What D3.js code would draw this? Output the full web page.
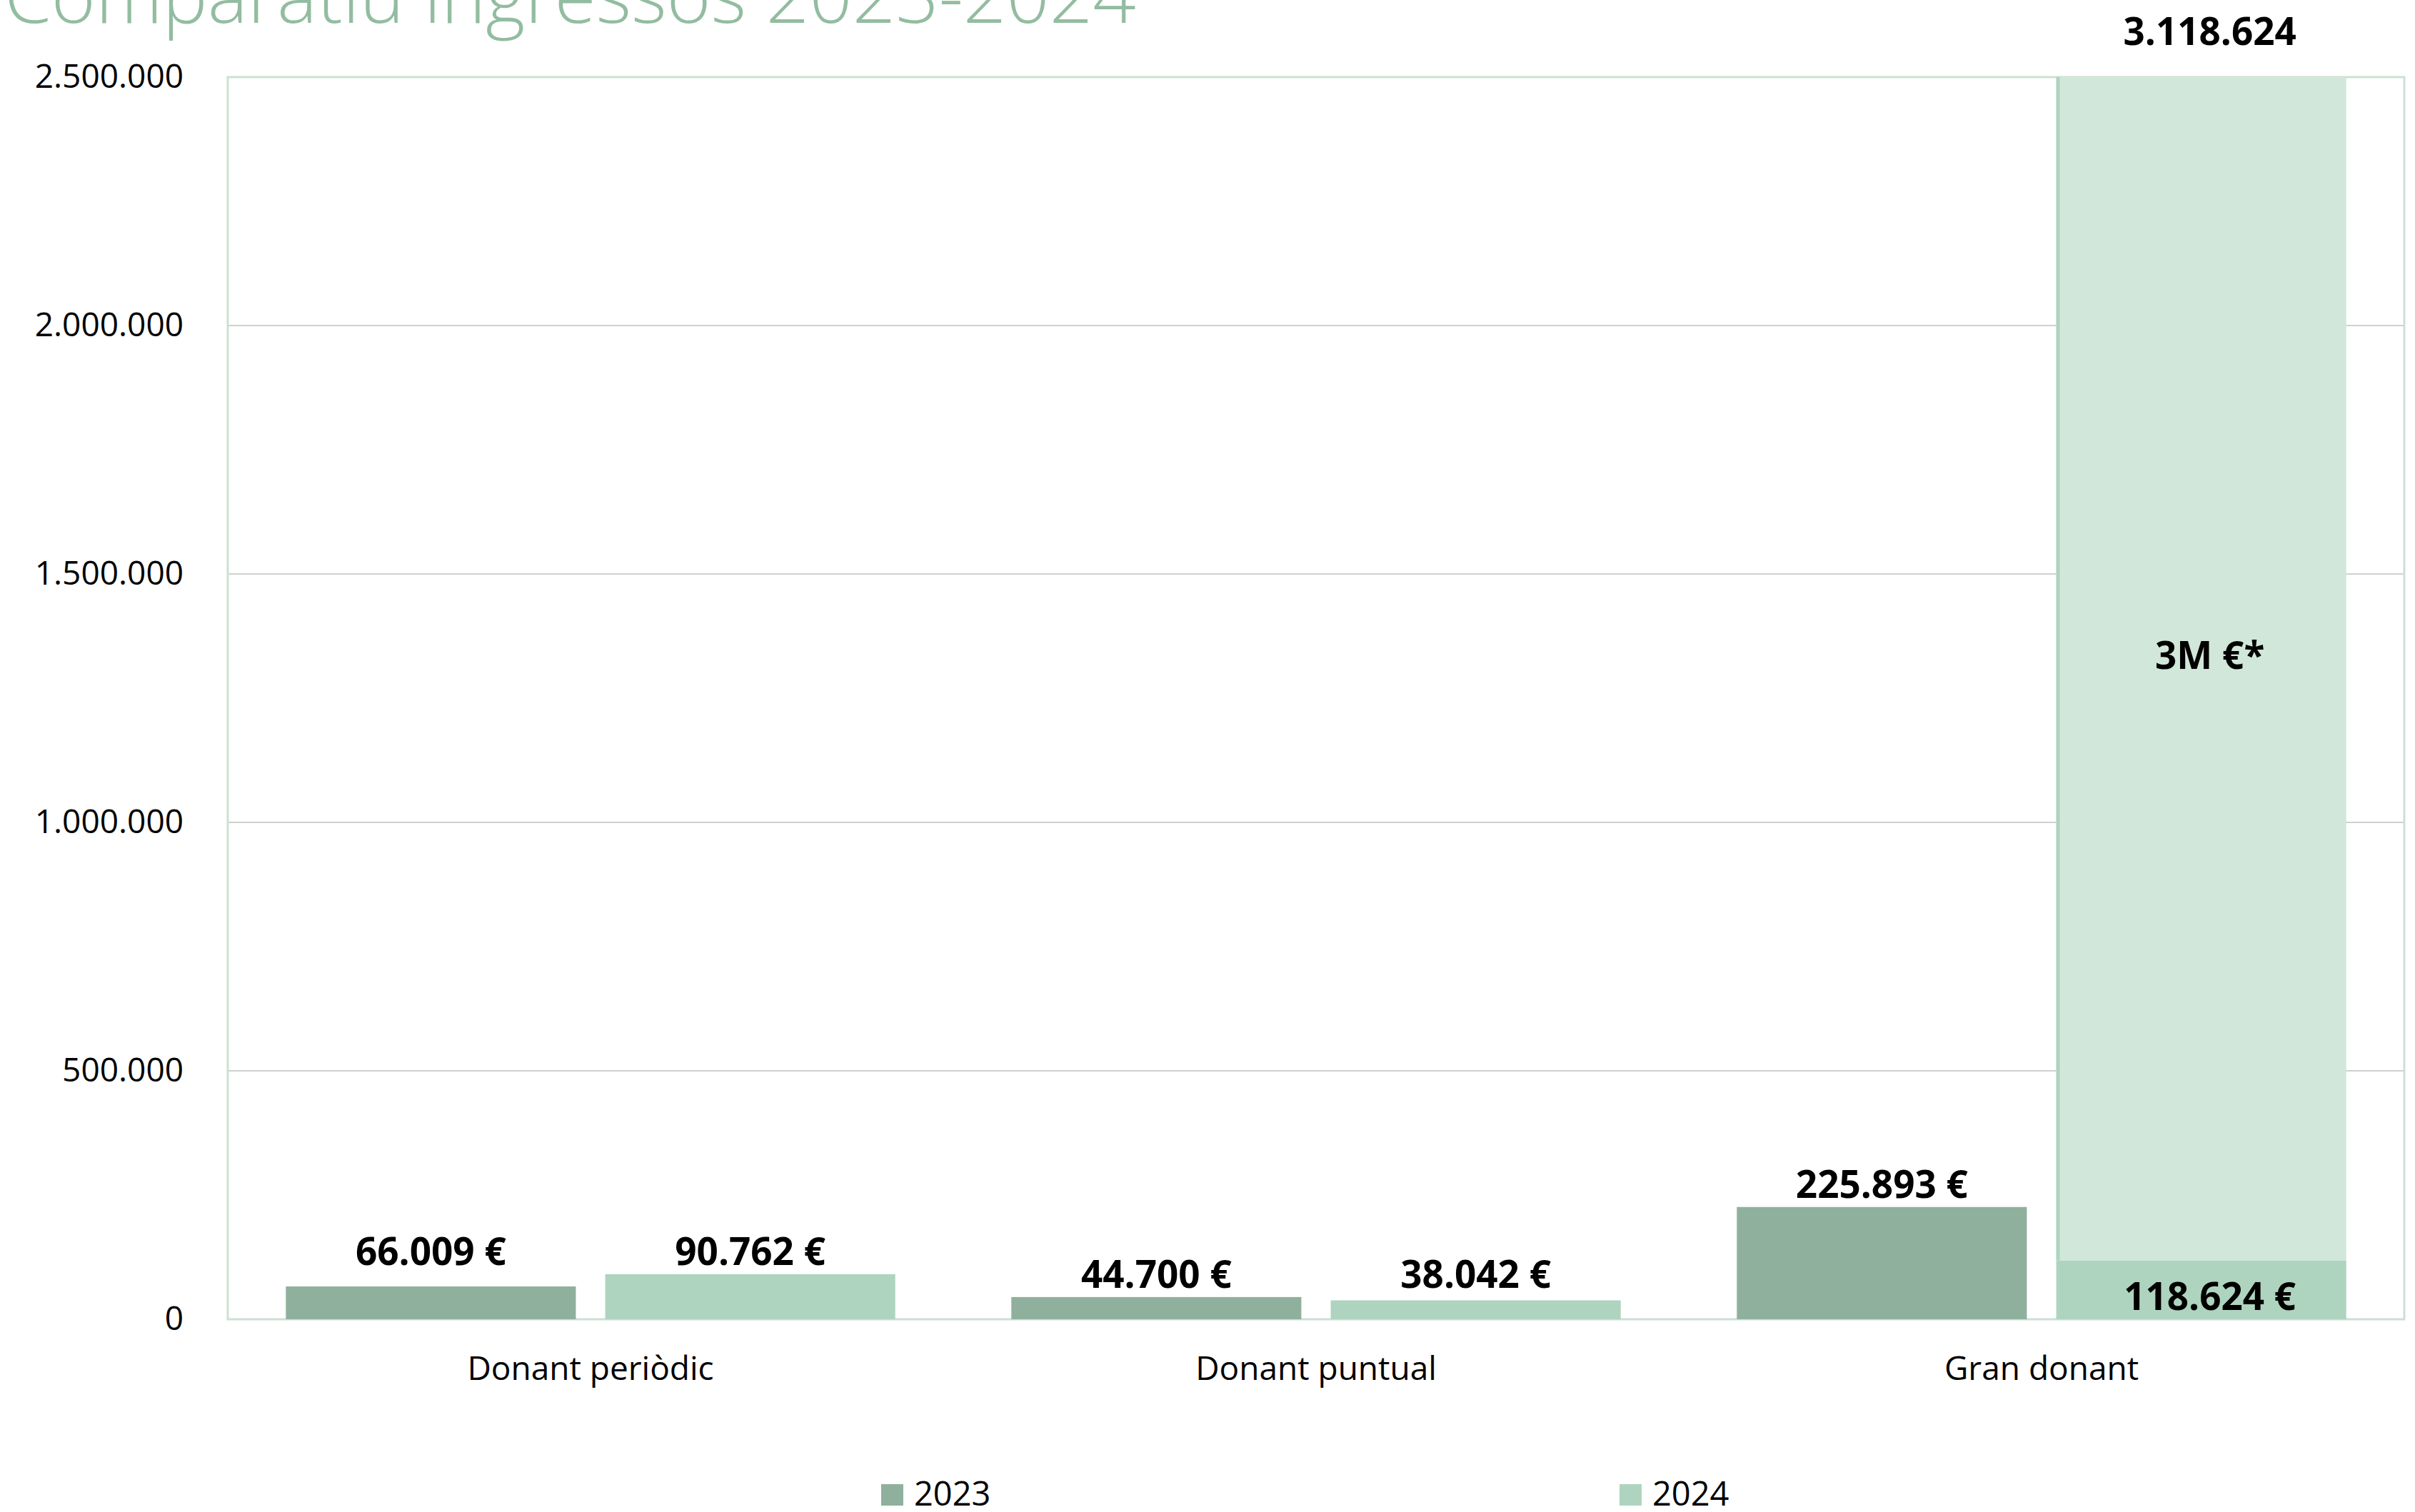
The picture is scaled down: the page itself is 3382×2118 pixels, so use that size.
<!DOCTYPE html>
<meta charset="utf-8">
<head>
    <title>Comparatiu ingressos 2023-2024</title>
    <style>
        body { margin: 0; background: #ffffff; }
        text { font-family: "Open Sans", "Noto Sans", sans-serif; }
    </style>
</head>
<body>
    <script src="https://cdn.jsdelivr.net/npm/d3@7"></script>
    <script>
        // data
        var categories = ["Donant periòdic", "Donant puntual", "Gran donant"];
        var years = ["2023", "2024"];
        var values2023 = [66009, 44700, 225893];
        var values2024 = [90762, 38042, 118624];
        var extra2024 = [0, 0, 3000000];        // part of the big donation shown as "3M €*"
        var extraLabel = "3M €*";
        var totalLabel = "3.118.624";
        var yTicks = [0, 500000, 1000000, 1500000, 2000000, 2500000];

        var colors = { "2023": "#8fb09c", "2024": "#aed4bf", extra: "#d1e7da" };

        var W = 3382, H = 2118;
        var margin = { top: 108, right: 15, bottom: 270, left: 319 };
        var width = W - margin.left - margin.right;
        var height = H - margin.top - margin.bottom;

        var ca = d3.formatLocale({ decimal: ",", thousands: ".", grouping: [3], currency: ["", " €"] });
        var fmt = ca.format(",d");
        var fmtEur = function(v) { return fmt(v) + " €"; };

        var svg = d3.select("body").append("svg")
            .attr("width", W)
            .attr("height", H);

        svg.append("text")
            .attr("x", 6)
            .attr("y", 32)
            .style("font-size", "106px")
            .style("font-weight", "300")
            .style("fill", "#93bca0")
            .text("Comparatiu ingressos 2023-2024");

        var g = svg.append("g").attr("transform", "translate(" + margin.left + "," + margin.top + ")");

        var x0 = d3.scaleBand().domain(categories).range([0, width]).paddingInner(0.16).paddingOuter(0.08);
        var x1 = d3.scaleBand().domain(years).range([0, x0.bandwidth()]).paddingInner(0.092).paddingOuter(0);
        var y = d3.scaleLinear().domain([0, 2500000]).range([height, 0]).clamp(true);

        // gridlines
        g.append("g")
            .selectAll("line")
            .data(yTicks.slice(1, -1))
            .enter().append("line")
            .attr("x1", 0).attr("x2", width)
            .attr("y1", d => y(d)).attr("y2", d => y(d))
            .style("stroke", "#d0d0d0")
            .style("stroke-width", 2);

        // plot frame
        g.append("rect")
            .attr("x", 0).attr("y", 0)
            .attr("width", width).attr("height", height)
            .style("fill", "none")
            .style("stroke", "#cce1d4")
            .style("stroke-width", 3);

        // y axis labels
        var yAxis = g.append("g")
            .call(d3.axisLeft(y).tickValues(yTicks).tickFormat(fmt).tickSize(0).tickPadding(62));
        yAxis.select(".domain").remove();
        yAxis.selectAll("text")
            .style("font-size", "46px")
            .style("fill", "#000")
            .style("font-family", "'Open Sans', sans-serif");

        // x axis labels
        var xAxis = g.append("g")
            .attr("transform", "translate(0," + height + ")")
            .call(d3.axisBottom(x0).tickSize(0).tickPadding(52));
        xAxis.select(".domain").remove();
        xAxis.selectAll("text")
            .style("font-size", "46px")
            .style("fill", "#000")
            .style("font-family", "'Open Sans', sans-serif");

        var rows = categories.map(function(c, i) {
            return { cat: c, v2023: values2023[i], v2024: values2024[i], extra: extra2024[i] };
        });

        var groups = g.selectAll(".grp")
            .data(rows)
            .enter().append("g")
            .attr("class", "grp")
            .attr("transform", d => "translate(" + x0(d.cat) + ",0)");

        // 2023 bars
        groups.append("rect")
            .attr("x", x1("2023"))
            .attr("width", x1.bandwidth())
            .attr("y", d => y(d.v2023))
            .attr("height", d => y(0) - y(d.v2023))
            .style("fill", colors["2023"]);

        // 2024 bars
        groups.append("rect")
            .attr("x", x1("2024"))
            .attr("width", x1.bandwidth())
            .attr("y", d => y(d.v2024))
            .attr("height", d => y(0) - y(d.v2024))
            .style("fill", colors["2024"]);

        // stacked 3M segment (clipped at the top of the axis)
        var big = groups.filter(d => d.extra > 0);
        big.append("rect")
            .attr("x", x1("2024"))
            .attr("width", x1.bandwidth())
            .attr("y", d => y(d.v2024 + d.extra))
            .attr("height", d => y(d.v2024) - y(d.v2024 + d.extra))
            .style("fill", colors.extra);
        big.append("rect")
            .attr("x", x1("2024"))
            .attr("width", 5)
            .attr("y", d => y(d.v2024 + d.extra))
            .attr("height", d => y(d.v2024) - y(d.v2024 + d.extra))
            .style("fill", colors["2024"]);

        // value labels
        var labelStyle = function(sel) {
            sel.style("font-size", "53px")
               .style("font-weight", "bold")
               .style("fill", "#000")
               .attr("text-anchor", "middle");
        };

        groups.append("text")
            .attr("x", x1("2023") + x1.bandwidth() / 2)
            .attr("y", d => y(Math.max(d.v2023, d.v2024)) - 13)
            .text(d => fmtEur(d.v2023))
            .call(labelStyle);

        groups.filter(d => d.extra === 0).append("text")
            .attr("x", x1("2024") + x1.bandwidth() / 2)
            .attr("y", d => y(Math.max(d.v2023, d.v2024)) - 13)
            .text(d => fmtEur(d.v2024))
            .call(labelStyle);

        big.append("text")
            .attr("x", x1("2024") + x1.bandwidth() / 2 + 12)
            .attr("y", y(0) - 13)
            .text(d => fmtEur(d.v2024))
            .call(labelStyle);

        big.append("text")
            .attr("x", x1("2024") + x1.bandwidth() / 2 + 12)
            .attr("y", d => (y(d.v2024) + y(d.v2024 + d.extra)) / 2)
            .text(extraLabel)
            .call(labelStyle);

        big.append("text")
            .attr("x", x1("2024") + x1.bandwidth() / 2 + 12)
            .attr("y", y.range()[1] - 45)
            .text(totalLabel)
            .call(labelStyle);

        // legend
        var legend = svg.append("g")
            .attr("transform", "translate(1234," + 2079 + ")");
        var items = legend.selectAll("g")
            .data(years)
            .enter().append("g")
            .attr("transform", (d, i) => "translate(" + (i * 1034) + ",0)");
        items.append("rect")
            .attr("width", 31).attr("height", 30)
            .style("fill", d => colors[d]);
        items.append("text")
            .attr("x", 46)
            .attr("y", 30)
            .style("font-size", "47px")
            .style("fill", "#000")
            .text(d => d);
    </script>
</body>
</html>
